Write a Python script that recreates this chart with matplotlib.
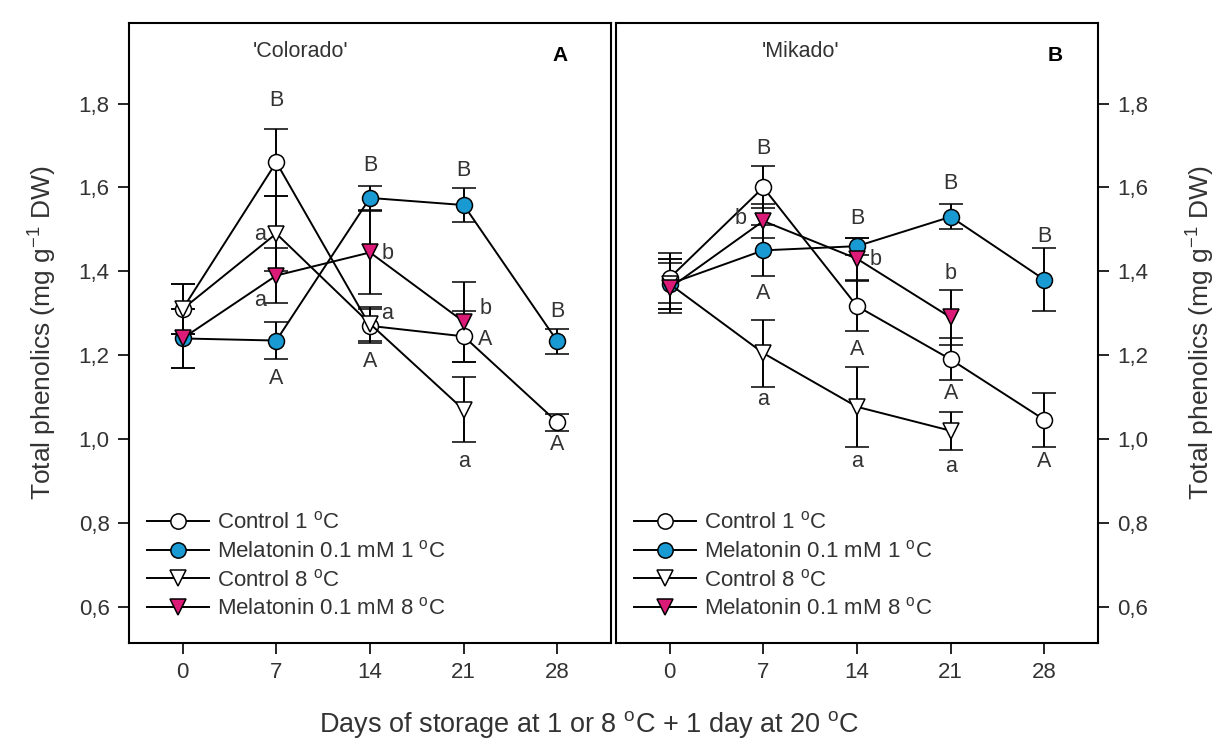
import numpy as np
import matplotlib
matplotlib.use("Agg")
import matplotlib.pyplot as plt
from matplotlib.lines import Line2D

plt.rcParams["font.family"] = ["Liberation Sans", "DejaVu Sans"]
plt.rcParams["mathtext.fontset"] = "custom"
plt.rcParams["mathtext.rm"] = "Liberation Sans"
plt.rcParams["mathtext.it"] = "Liberation Sans:italic"

days = [0, 7, 14, 21, 28]
nan = np.nan

# 'Colorado'
col_c1 = [1.31, 1.66, 1.27, 1.245, 1.04]
col_c1_err = [0.06, 0.08, 0.04, 0.06, 0.02]
col_m1 = [1.24, 1.235, 1.575, 1.558, 1.233]
col_m1_err = [0.07, 0.045, 0.028, 0.04, 0.03]
col_c8 = [1.31, 1.49, 1.275, 1.07, nan]
col_c8_err = [0.06, 0.09, 0.04, 0.077, nan]
col_m8 = [1.24, 1.39, 1.445, 1.28, nan]
col_m8_err = [0.07, 0.065, 0.10, 0.095, nan]

# 'Mikado'
mik_c1 = [1.384, 1.60, 1.317, 1.19, 1.046]
mik_c1_err = [0.06, 0.05, 0.06, 0.05, 0.065]
mik_m1 = [1.37, 1.45, 1.46, 1.53, 1.38]
mik_m1_err = [0.06, 0.06, 0.02, 0.03, 0.075]
mik_c8 = [1.37, 1.205, 1.077, 1.02, nan]
mik_c8_err = [0.06, 0.08, 0.095, 0.045, nan]
mik_m8 = [1.36, 1.52, 1.43, 1.29, nan]
mik_m8_err = [0.06, 0.04, 0.05, 0.065, nan]

# significance letters (day, value, text)
col_letters = [(7, 1.807, "B"), (5.8, 1.489, "a"), (5.8, 1.33, "a"), (7, 1.144, "A"),
               (14, 1.652, "B"), (15.3, 1.443, "b"), (15.3, 1.30, "a"), (14, 1.185, "A"),
               (21, 1.64, "B"), (22.6, 1.312, "b"), (22.6, 1.238, "A"), (21, 0.946, "a"),
               (28, 1.305, "B"), (28, 0.987, "A")]
mik_letters = [(7, 1.692, "B"), (5.3, 1.527, "b"), (7, 1.348, "A"), (7, 1.094, "a"),
               (14, 1.525, "B"), (15.4, 1.429, "b"), (14, 1.214, "A"), (14, 0.946, "a"),
               (21, 1.609, "B"), (21, 1.396, "b"), (21, 1.109, "A"), (21, 0.934, "a"),
               (28, 1.484, "B"), (28, 0.946, "A")]

labels = [r"Control 1 $^{\rm o}$C", r"Melatonin 0.1 mM 1 $^{\rm o}$C",
          r"Control 8 $^{\rm o}$C", r"Melatonin 0.1 mM 8 $^{\rm o}$C"]
blue = "#1a9ad3"
pink = "#dc1a78"
grey = "#333333"
styles = [("o", "white"), ("o", blue), ("v", "white"), ("v", pink)]

fig = plt.figure(figsize=(12.19, 7.46), dpi=100)
ax1 = fig.add_axes([129 / 1219, 1 - 643 / 746, 482 / 1219, 620 / 746])
ax2 = fig.add_axes([616 / 1219, 1 - 643 / 746, 482 / 1219, 620 / 746])


def draw(ax, series, letters):
    handles = []
    for (y, e), (mk, fc), lab in zip(series, styles, labels):
        ax.errorbar(days, y, yerr=e, color="black", lw=1.4, elinewidth=1.4,
                    capsize=8.5, capthick=1.4, marker=mk, ms=11.5, mfc=fc,
                    mec="black", mew=1.1)
        handles.append(Line2D([], [], color="black", lw=1.4, marker=mk, ms=11,
                              mfc=fc, mec="black", mew=1.1, label=lab))
    for x, y, t in letters:
        ax.text(x, y, t, ha="center", va="center", fontsize=15.5, color=grey)
    ax.set_xlim(-4, 32)
    ax.set_ylim(0.514, 1.992)
    ax.set_xticks(days)
    ax.set_yticks([0.6, 0.8, 1.0, 1.2, 1.4, 1.6, 1.8])
    ax.set_yticklabels(["0,6", "0,8", "1,0", "1,2", "1,4", "1,6", "1,8"])
    ax.tick_params(direction="out", length=8, width=1.2, labelsize=16,
                   labelcolor=grey, pad=6)
    for s in ax.spines.values():
        s.set_linewidth(1.5)
    ax.legend(handles=handles, loc="lower left", bbox_to_anchor=(-0.012, 0.0),
              frameon=False, fontsize=16, handlelength=2.8, handletextpad=0.35,
              labelspacing=0.3, borderaxespad=0.75, borderpad=0.3,
              labelcolor=grey)


draw(ax1, [(col_c1, col_c1_err), (col_m1, col_m1_err),
           (col_c8, col_c8_err), (col_m8, col_m8_err)], col_letters)
draw(ax2, [(mik_c1, mik_c1_err), (mik_m1, mik_m1_err),
           (mik_c8, mik_c8_err), (mik_m8, mik_m8_err)], mik_letters)

ax1.text(8.8, 1.925, "'Colorado'", ha="center", va="center", fontsize=15.5, color=grey)
ax1.text(28.2, 1.915, "A", ha="center", va="center", fontsize=15, fontweight="bold")
ax2.text(9.8, 1.925, "'Mikado'", ha="center", va="center", fontsize=15.5, color=grey)
ax2.text(28.8, 1.915, "B", ha="center", va="center", fontsize=15, fontweight="bold")

ylab = r"Total phenolics (mg g$^{-1}$ DW)"
ax1.set_ylabel(ylab, fontsize=19, color=grey, labelpad=14)
ax2.yaxis.tick_right()
ax2.yaxis.set_label_position("right")
ax2.set_ylabel(ylab, fontsize=19, color=grey, labelpad=26)

fig.text(589 / 1219, 1 - 725 / 746,
         r"Days of storage at 1 or 8 $^{\rm o}$C + 1 day at 20 $^{\rm o}$C",
         ha="center", va="center", fontsize=19.5, color=grey)

fig.savefig("out.png", dpi=100)
